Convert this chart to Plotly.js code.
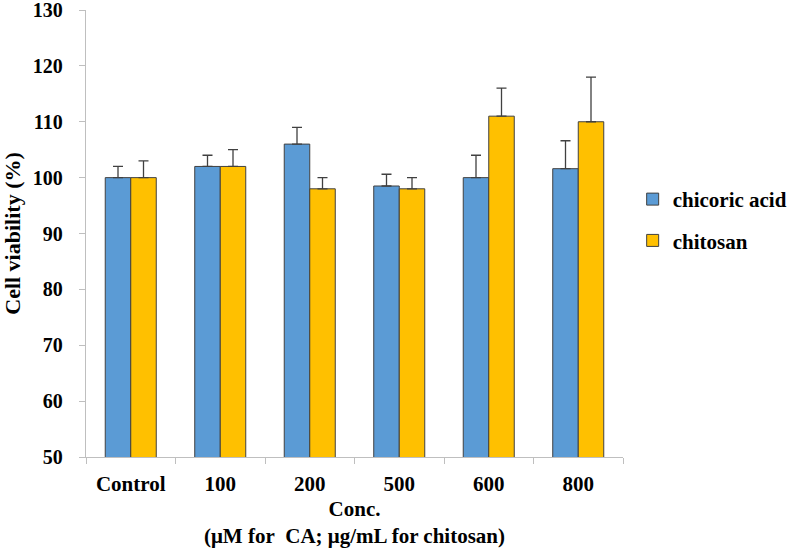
<!DOCTYPE html>
<html>
<head>
<meta charset="utf-8">
<script src="https://cdn.plot.ly/plotly-3.0.1.min.js"></script>
<style>html,body{margin:0;padding:0;background:#fff;}</style>
</head>
<body>
<div id="chart" style="width:792px;height:549px;"></div>
<script>
const categories = ["Control", "100", "200", "500", "600", "800"];
const chicoricAcid = [100, 102, 106, 98.5, 100, 101.6];
const chicoricAcidErr = [2, 2, 3, 2.1, 4, 5];
const chitosan = [100, 102, 98, 98, 111, 110];
const chitosanErr = [3, 3, 2, 2, 5, 8];
const yTicks = [50, 60, 70, 80, 90, 100, 110, 120, 130];
const zeros = [0, 0, 0, 0, 0, 0];

const fontFam = "Times New Roman, Liberation Serif, serif";
const errStyle = {type: 'data', symmetric: false, color: '#404040', thickness: 1.3, width: 5};

const traces = [
  {
    type: 'bar', name: 'chicoric acid', x: categories, y: chicoricAcid,
    marker: {color: '#5B9BD5', line: {color: '#404040', width: 1}},
    error_y: Object.assign({array: chicoricAcidErr, arrayminus: zeros}, errStyle),
    legendgroup: 'a'
  },
  {
    type: 'bar', name: 'chitosan', x: categories, y: chitosan,
    marker: {color: '#FFC000', line: {color: '#404040', width: 1}},
    error_y: Object.assign({array: chitosanErr, arrayminus: zeros}, errStyle),
    legendgroup: 'b'
  }
];

const f = (s) => ({family: fontFam, size: s, color: '#000', weight: 'bold'});

const layout = {
  width: 792, height: 549,
  margin: {l: 86, r: 169, t: 10, b: 92, autoexpand: false},
  paper_bgcolor: '#ffffff', plot_bgcolor: '#ffffff',
  barmode: 'group', bargap: 0.43, bargroupgap: 0,
  font: f(21),
  xaxis: {
    type: 'category',
    showline: true, linecolor: '#BFBFBF', linewidth: 1.3,
    ticks: 'outside', tickson: 'boundaries', ticklen: 6, tickcolor: '#BFBFBF',
    tickfont: f(21), ticklabelstandoff: 7,
    title: {text: 'Conc.<br>(μM for&nbsp; CA; μg/mL for chitosan)', standoff: 6, font: f(21)},
    showgrid: false, zeroline: false, automargin: false
  },
  yaxis: {
    range: [50, 130], tickmode: 'array', tickvals: yTicks, ticktext: yTicks.map(String),
    showline: true, linecolor: '#BFBFBF', linewidth: 1.3,
    ticks: 'outside', ticklen: 6, tickcolor: '#BFBFBF',
    tickfont: f(20), ticklabelstandoff: 12, ticklabeloverflow: 'allow',
    title: {text: 'Cell viability (%)', standoff: 8, font: f(22)},
    showgrid: false, zeroline: false, automargin: false
  },
  legend: {
    x: 1.018, y: 0.622, xanchor: 'left', yanchor: 'top',
    font: f(21),
    tracegroupgap: 11, itemwidth: 30
  },
  showlegend: true
};

Plotly.newPlot('chart', traces, layout, {displayModeBar: false, staticPlot: true});
</script>
</body>
</html>
